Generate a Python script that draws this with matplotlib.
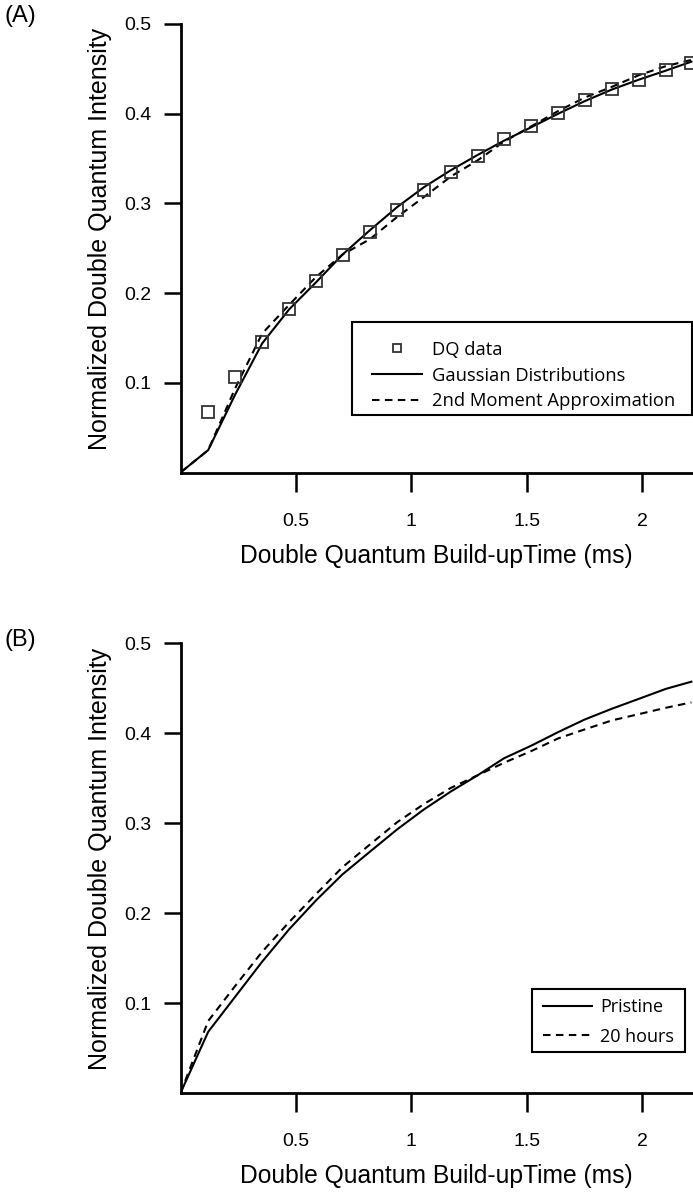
import matplotlib
matplotlib.use("Agg")
import matplotlib.pyplot as plt
from matplotlib.patches import Rectangle

# Tempos de build-up (ms)
tempo = [0.0, 0.120, 0.237, 0.354, 0.471, 0.587, 0.702, 0.820, 0.939, 1.054,
         1.171, 1.287, 1.402, 1.520, 1.636, 1.751, 1.869, 1.986, 2.102, 2.213]

# (A) dados DQ e ajustes
dq_data = [0.068, 0.107, 0.146, 0.182, 0.214, 0.243, 0.268, 0.293, 0.315,
           0.335, 0.353, 0.372, 0.386, 0.401, 0.415, 0.427, 0.438, 0.449, 0.457]
gaussiana = [0.0, 0.025, 0.087, 0.144, 0.182, 0.212, 0.243, 0.270, 0.296, 0.318,
             0.337, 0.354, 0.370, 0.385, 0.400, 0.414, 0.427, 0.438, 0.448, 0.458]
segundo_momento = [0.0, 0.025, 0.094, 0.155, 0.187, 0.218, 0.243, 0.260, 0.285, 0.307,
                   0.330, 0.348, 0.369, 0.386, 0.403, 0.418, 0.430, 0.443, 0.453, 0.460]

# (B) pristine vs 20 horas
pristine = [0.0] + dq_data
horas_20 = [0.0, 0.080, 0.119, 0.157, 0.190, 0.221, 0.251, 0.276, 0.301, 0.321,
            0.339, 0.353, 0.367, 0.380, 0.394, 0.404, 0.414, 0.421, 0.428, 0.434]

xticks = [0.5, 1, 1.5, 2]
xtick_labels = ["0.5", "1", "1.5", "2"]
yticks = [0.1, 0.2, 0.3, 0.4, 0.5]

fonte_eixos = "Liberation Sans"
fonte_legenda = "Open Sans"
W, H = 693, 1193

fig = plt.figure(figsize=(W / 100, H / 100), dpi=100)
axA = fig.add_axes([180.5 / W, (H - 472.5) / H, (W - 180.5) / W, 448.5 / H])
axB = fig.add_axes([180.5 / W, (H - 1093) / H, (W - 180.5) / W, 450 / H])

dashes = (3.6, 2.6)

def formatar(ax):
    ax.set_xlim(0, 2.22)
    ax.set_ylim(0, 0.5)
    for s in ["top", "right"]:
        ax.spines[s].set_visible(False)
    for s in ["left", "bottom"]:
        ax.spines[s].set_linewidth(2.0)
    ax.set_xticks(xticks)
    ax.set_xticklabels(xtick_labels)
    ax.set_yticks(yticks)
    ax.set_yticklabels([f"{v:.1f}" for v in yticks])
    ax.tick_params(axis="x", direction="out", length=14, width=1.8, pad=15, labelsize=14)
    ax.tick_params(axis="y", direction="out", length=12, width=1.8, pad=9, labelsize=14)
    for lab in ax.get_xticklabels() + ax.get_yticklabels():
        lab.set_fontfamily(fonte_eixos)
    ax.set_xlabel("Double Quantum Build-upTime (ms)", fontsize=17.7, family=fonte_eixos, labelpad=10)
    ax.set_ylabel("Normalized Double Quantum Intensity", fontsize=18, family=fonte_eixos, labelpad=9)
    ax.yaxis.label.set_y(0.52)

def caixa(x0, y0, x1, y1):
    # moldura da legenda em pixels da figura
    fig.patches.append(Rectangle((x0 / W, 1 - y1 / H), (x1 - x0) / W, (y1 - y0) / H,
                                 transform=fig.transFigure, fill=True, facecolor="white",
                                 edgecolor="black", lw=1.5, zorder=5))

# Painel A
axA.plot(tempo[1:], dq_data, "s", ms=8, mfc="none", mec="#333333", mew=1.3,
         label="DQ data", clip_on=False, zorder=3)
axA.plot(tempo, gaussiana, "-", color="black", lw=1.5, label="Gaussian Distributions")
axA.plot(tempo, segundo_momento, "--", color="black", lw=1.5, dashes=dashes,
         label="2nd Moment Approximation")
formatar(axA)
caixa(352, 322, 692, 415)
legA = fig.legend(*axA.get_legend_handles_labels(), loc="center left",
                  bbox_to_anchor=(372 / W, 1 - 375.5 / H), borderaxespad=0, borderpad=0,
                  frameon=False, prop={"family": fonte_legenda, "size": 13.2},
                  handlelength=2.7, handletextpad=0.6, labelspacing=0.42, markerscale=0.75)
legA.set_zorder(6)

# Painel B
axB.plot(tempo, pristine, "-", color="black", lw=1.5, label="Pristine")
axB.plot(tempo, horas_20, "--", color="black", lw=1.5, dashes=dashes, label="20 hours")
formatar(axB)
caixa(532, 989, 685, 1052)
legB = fig.legend(*axB.get_legend_handles_labels(), loc="center left",
                  bbox_to_anchor=(543 / W, 1 - 1022 / H), borderaxespad=0, borderpad=0,
                  frameon=False, prop={"family": fonte_legenda, "size": 13},
                  handlelength=2.7, handletextpad=0.45, labelspacing=0.62)
legB.set_zorder(6)

fig.text(20 / W, 1 - 16 / H, "(A)", fontsize=17, family=fonte_eixos, ha="center", va="center")
fig.text(20 / W, 1 - 640 / H, "(B)", fontsize=17, family=fonte_eixos, ha="center", va="center")

plt.savefig("out.png", dpi=100)
